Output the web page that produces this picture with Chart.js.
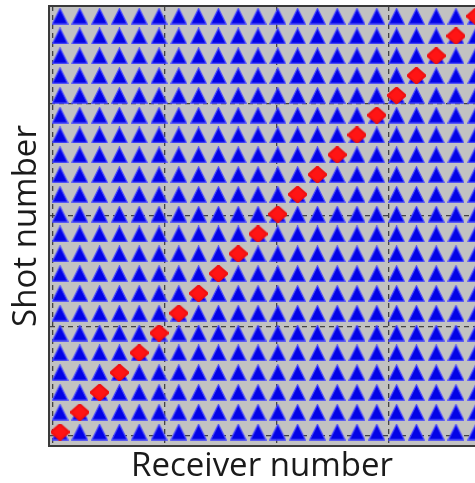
<!DOCTYPE html>
<html>
<head>
<meta charset="utf-8">
<script src="https://cdn.jsdelivr.net/npm/chart.js@4/dist/chart.umd.min.js"></script>
<style>
  html, body { margin: 0; padding: 0; background: #ffffff; overflow: hidden; }
  #wrap { width: 475px; height: 483px; }
</style>
</head>
<body>
<div id="wrap"><canvas id="c" width="475" height="483"></canvas></div>
<script>
// ---- data ----
const receiverNumbers = [1,2,3,4,5,6,7,8,9,10,11,12,13,14,15,16,17,18,19,20,21,22];
const shotNumbers     = [1,2,3,4,5,6,7,8,9,10,11,12,13,14,15,16,17,18,19,20,21,22];
// shot / receiver pairs highlighted in red (diagonal)
const activeReceivers = [1,2,3,4,5,6,7,8,9,10,11,12,13,14,15,16,17,18,19,20,21,22];
const activeShots     = [1,2,3,4,5,6,7,8,9,10,11,12,13,14,15,16,17,18,19,20,21,22];
// grid line positions (no tick labels shown)
const xGridTicks = [0.65, 6.3, 11.95, 17.6];
const yGridTicks = [0.8, 6.3, 11.95, 17.6];
const xLabel = 'Receiver number';
const yLabel = 'Shot number';

// ---- tables for the library ----
const allPairs = [];
shotNumbers.forEach(s => receiverNumbers.forEach(r => allPairs.push({x: r, y: s})));
const activePairs = activeReceivers.map((r, i) => ({x: r, y: activeShots[i]}));

// ---- marker images ----
function triangleMarker() {
  const w = 17, h = 17;
  const c = document.createElement('canvas');
  c.width = w; c.height = h;
  const g = c.getContext('2d');
  g.beginPath();
  g.moveTo(w / 2, 0.8);
  g.lineTo(w - 0.8, h - 0.8);
  g.lineTo(0.8, h - 0.8);
  g.closePath();
  g.fillStyle = '#0303e6';
  g.fill();
  g.lineWidth = 1.2;
  g.strokeStyle = '#4848ff';
  g.stroke();
  return c;
}
function diamondMarker() {
  const w = 19, h = 17;
  const c = document.createElement('canvas');
  c.width = w; c.height = h;
  const g = c.getContext('2d');
  g.beginPath();
  g.moveTo(w / 2, 0.5);
  g.lineTo(w - 0.5, h / 2);
  g.lineTo(w / 2, h - 0.5);
  g.lineTo(0.5, h / 2);
  g.closePath();
  g.fillStyle = '#ff1414';
  g.fill();
  g.lineJoin = 'round';
  g.lineWidth = 2;
  g.strokeStyle = '#f01010';
  g.stroke();
  return c;
}

const frame = {
  id: 'frame',
  beforeDraw(chart) {
    const {ctx, chartArea: a} = chart;
    ctx.save();
    ctx.fillStyle = '#c2c2c2';
    ctx.fillRect(a.left, a.top, a.right - a.left, a.bottom - a.top);
    ctx.restore();
  },
  afterDraw(chart) {
    const {ctx, chartArea: a} = chart;
    ctx.save();
    ctx.strokeStyle = '#3a3a3a';
    ctx.lineWidth = 2;
    ctx.beginPath();
    ctx.moveTo(a.left, a.top);
    ctx.lineTo(a.right, a.top);
    ctx.stroke();
    ctx.restore();
  }
};

new Chart(document.getElementById('c'), {
  type: 'scatter',
  data: {
    datasets: [
      { label: 'active', data: activePairs, order: 0,
        pointStyle: diamondMarker(), pointRadius: 9, pointHoverRadius: 9 },
      { label: 'all', data: allPairs, order: 1,
        pointStyle: triangleMarker(), pointRadius: 9, pointHoverRadius: 9 }
    ]
  },
  options: {
    responsive: false,
    animation: false,
    devicePixelRatio: 1,
    layout: { autoPadding: false, padding: { top: 6, right: 0, left: 0, bottom: 0 } },
    plugins: { legend: { display: false }, tooltip: { enabled: false } },
    scales: {
      x: {
        type: 'linear', min: 0.444, max: 21.96, z: 1,
        afterBuildTicks: s => { s.ticks = xGridTicks.map(v => ({value: v})); },
        afterFit: s => { s.height = 37; },
        ticks: { display: false },
        grid: { color: 'rgba(45,45,45,0.85)', lineWidth: 1.3, drawTicks: false },
        border: { display: true, color: '#3a3a3a', width: 2, dash: [5, 4] },
        title: { display: true, text: xLabel, color: '#1a1a1a',
                 font: { family: 'Open Sans', size: 33, lineHeight: 1.0 },
                 padding: { top: 0, bottom: 0 } }
      },
      y: {
        type: 'linear', min: 0.293, max: 22.515, z: 1,
        afterBuildTicks: s => { s.ticks = yGridTicks.map(v => ({value: v})); },
        afterFit: s => { s.width = 49; },
        ticks: { display: false },
        grid: { color: 'rgba(45,45,45,0.85)', lineWidth: 1.3, drawTicks: false },
        border: { display: true, color: '#3a3a3a', width: 2, dash: [5, 4] },
        title: { display: true, text: yLabel, color: '#1a1a1a',
                 font: { family: 'Open Sans', size: 33, lineHeight: 1.0 },
                 padding: { top: 10, bottom: 0 } }
      }
    }
  },
  plugins: [frame]
});
</script>
</body>
</html>
